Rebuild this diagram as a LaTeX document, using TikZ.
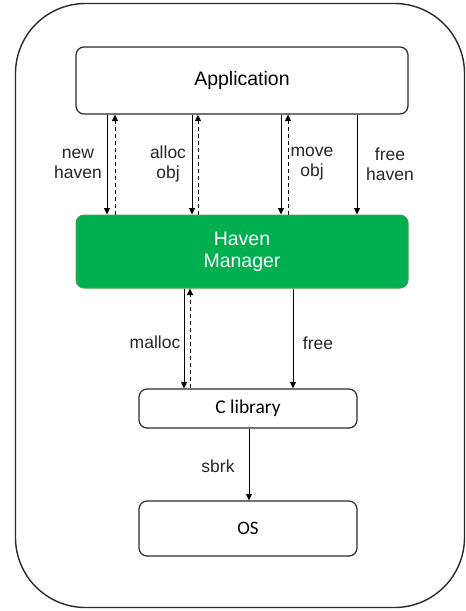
\documentclass[tikz,border=0pt]{standalone}
\usepackage{fontspec}
\setmainfont{Liberation Sans}
\newfontfamily\calfont{Carlito}
\usetikzlibrary{arrows.meta}
\definecolor{hgreen}{HTML}{00B050}
\definecolor{hborder}{HTML}{3FA34D}
\definecolor{edge}{HTML}{2A2A2A}
\tikzset{
  box/.style={draw=edge, line width=1.2pt, rounded corners=8pt, fill=white, inner sep=0pt},
  greenbox/.style={draw=hborder, line width=1pt, rounded corners=8pt, fill=hgreen, inner sep=0pt, text=white, align=center, font=\fontsize{19.5}{22}\selectfont},
  lbl/.style={align=center, font=\fontsize{17.5}{20}\selectfont, text=black!85, inner sep=0pt},
  solidarrow/.style={draw=black, line width=1pt, -{Triangle[length=6.5pt,width=6pt]}},
  dasharrow/.style={draw=black, line width=1pt, dash pattern=on 4pt off 3pt, -{Triangle[length=6.5pt,width=6pt]}},
}
\begin{document}
\begin{tikzpicture}[x=1pt,y=-1pt]
\useasboundingbox (0,0) rectangle (466,611);
% outer frame
\draw[line width=1.4pt, draw=edge, rounded corners=70pt] (15.5,3.5) rectangle (464.5,607.5);

\node[box, minimum width=332pt, minimum height=67pt, font=\fontsize{19.5}{22}\selectfont] (app) at (242,80.5) {Application};
\node[greenbox, minimum width=332pt, minimum height=73pt] (hm) at (242,251.5) {Haven\\Manager};
\node[box, minimum width=218pt, minimum height=39pt, font=\calfont\fontsize{19.5}{22}\selectfont] (clib) at (248,408.5) {C library};
\node[box, minimum width=218pt, minimum height=55pt, font=\calfont\fontsize{19}{22}\selectfont] (os) at (248,528.5) {OS};

% x positions of connectors
\coordinate (x1) at (107,0);
\coordinate (x2) at (115,0);
\coordinate (x3) at (192,0);
\coordinate (x4) at (198,0);
\coordinate (x5) at (281,0);
\coordinate (x6) at (288,0);
\coordinate (x7) at (357,0);
\coordinate (x8) at (184,0);
\coordinate (x9) at (190,0);
\coordinate (x10) at (293,0);
\coordinate (x11) at (249,0);

\draw[solidarrow] (app.south -| x1) -- (hm.north -| x1);
\draw[dasharrow] (hm.north -| x2) -- (app.south -| x2);
\draw[solidarrow] (app.south -| x3) -- (hm.north -| x3);
\draw[dasharrow] (hm.north -| x4) -- (app.south -| x4);
\draw[solidarrow] (app.south -| x5) -- (hm.north -| x5);
\draw[dasharrow] (hm.north -| x6) -- (app.south -| x6);
\draw[solidarrow] (app.south -| x7) -- (hm.north -| x7);

\draw[solidarrow] (hm.south -| x8) -- (clib.north -| x8);
\draw[dasharrow] (clib.north -| x9) -- (hm.south -| x9);
\draw[solidarrow] (hm.south -| x10) -- (clib.north -| x10);
\draw[solidarrow] (clib.south -| x11) -- (os.north -| x11);

\node[lbl] (l1) at (78,164) {new\\haven};
\node[lbl] (l2) at (168,164) {alloc\\obj};
\node[lbl] (l3) at (312,164) {move\\obj};
\node[lbl] (l4) at (390,164) {free\\haven};
\node[lbl] (l5) at (155,342) {malloc};
\node[lbl] (l6) at (318,343) {free};
\node[lbl] (l7) at (218,466) {sbrk};
\end{tikzpicture}
\end{document}
